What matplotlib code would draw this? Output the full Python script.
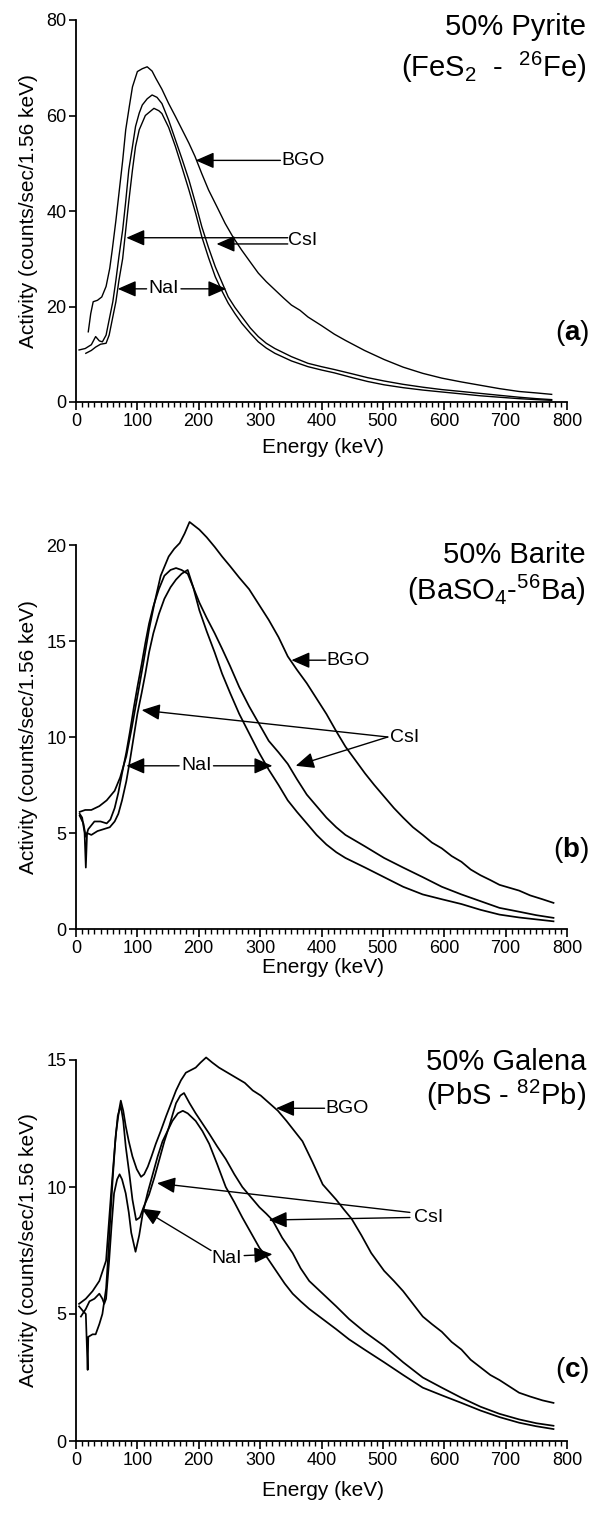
import numpy as np
import matplotlib
matplotlib.use("Agg")
import matplotlib.pyplot as plt
from matplotlib.ticker import MultipleLocator

plt.rcParams['font.family'] = ['Liberation Sans', 'DejaVu Sans']
plt.rcParams['mathtext.fontset'] = 'custom'
plt.rcParams['mathtext.rm'] = 'Liberation Sans'
plt.rcParams['mathtext.bf'] = 'Liberation Sans:bold'

# ---- (a) 50% Pyrite ----
a_bgo_e = [20, 24, 28, 35, 42, 49, 55, 59, 65, 70, 76, 81, 87, 92, 100, 108, 116, 124, 130, 140,
           151, 162, 173, 184, 194, 205, 216, 230, 243, 256, 270, 284, 297, 310, 324, 338, 351, 365,
           378, 400, 421, 439, 470, 502, 533, 565, 596, 628, 659, 690, 722, 750, 775]
a_bgo_v = [14.7, 18.5, 21.0, 21.3, 22.0, 24.2, 28.0, 31.8, 38.0, 43.7, 50.5, 57.0, 62.0, 66.0, 69.2,
           69.8, 70.2, 69.3, 67.8, 65.5, 62.5, 59.8, 57.0, 54.2, 51.4, 47.8, 44.4, 40.8, 37.4, 34.5,
           31.8, 29.3, 27.0, 25.2, 23.5, 21.8, 20.3, 19.2, 17.8, 16.0, 14.2, 12.9, 10.8, 8.9, 7.3,
           6.0, 5.0, 4.2, 3.5, 2.8, 2.2, 1.9, 1.6]
a_csi_e = [5, 15, 25, 32, 38, 43, 49, 54, 60, 65, 70, 76, 81, 86, 92, 97, 103, 108, 116, 124, 132,
           140, 151, 162, 173, 184, 195, 205, 216, 227, 238, 248, 259, 270, 284, 297, 310, 324, 351,
           378, 400, 421, 450, 475, 502, 533, 565, 596, 628, 659, 690, 722, 750, 775]
a_csi_v = [10.9, 11.2, 12.0, 13.7, 12.8, 12.6, 14.0, 17.2, 21.0, 25.5, 30.5, 36.0, 42.0, 48.6, 53.5,
           57.7, 60.5, 62.2, 63.5, 64.3, 63.8, 62.5, 59.0, 54.9, 50.8, 46.5, 41.5, 36.7, 32.3, 28.3,
           25.0, 22.0, 19.8, 17.9, 15.5, 13.7, 12.3, 11.2, 9.5, 8.1, 7.4, 6.8, 5.9, 5.1, 4.4, 3.7,
           3.1, 2.6, 2.2, 1.8, 1.4, 1.0, 0.7, 0.5]
a_nai_e = [16, 25, 32, 40, 49, 54, 59, 65, 70, 76, 81, 86, 92, 97, 103, 113, 127, 135, 140, 151,
           162, 173, 184, 195, 205, 216, 227, 238, 248, 259, 270, 284, 297, 310, 324, 351, 378, 400,
           421, 450, 475, 502, 533, 565, 596, 628, 659, 690, 722, 750, 775]
a_nai_v = [10.2, 10.8, 11.5, 12.1, 12.3, 14.0, 17.2, 21.0, 25.5, 30.0, 36.0, 42.0, 48.6, 53.5, 57.0,
           60.0, 61.5, 61.0, 60.4, 57.5, 53.5, 49.0, 44.4, 39.5, 34.6, 30.2, 26.2, 23.2, 20.7, 18.5,
           16.5, 14.4, 12.6, 11.3, 10.2, 8.6, 7.4, 6.7, 6.1, 5.1, 4.3, 3.6, 3.0, 2.5, 2.1, 1.7, 1.3,
           1.0, 0.7, 0.5, 0.35]

# ---- (b) 50% Barite ----
b_bgo_e = [6, 15, 25, 38, 50, 63, 72, 82, 91, 100, 110, 119, 128, 138, 151, 160, 169, 177, 185, 193,
           201, 213, 226, 238, 251, 266, 282, 298, 314, 330, 345, 360, 376, 392, 408, 424, 439, 455,
           471, 486, 502, 518, 533, 549, 565, 580, 596, 612, 628, 643, 659, 675, 690, 706, 722, 740,
           760, 778]
b_bgo_v = [6.1, 6.2, 6.2, 6.4, 6.7, 7.2, 7.9, 9.0, 10.5, 12.1, 13.9, 15.6, 17.0, 18.4, 19.4, 19.8,
           20.1, 20.6, 21.2, 21.0, 20.8, 20.4, 19.9, 19.4, 18.9, 18.3, 17.7, 16.9, 16.1, 15.2, 14.2,
           13.5, 12.8, 12.0, 11.2, 10.3, 9.5, 8.8, 8.1, 7.5, 6.9, 6.3, 5.8, 5.3, 4.9, 4.5, 4.2, 3.8,
           3.5, 3.1, 2.8, 2.55, 2.3, 2.15, 2.0, 1.75, 1.55, 1.36]
b_csi_e = [6, 12, 16, 20, 30, 40, 50, 56, 63, 69, 75, 82, 88, 94, 100, 107, 113, 119, 126, 135, 144,
           154, 163, 172, 182, 191, 201, 213, 226, 238, 251, 266, 282, 298, 314, 330, 345, 360, 376,
           392, 408, 424, 439, 471, 502, 533, 565, 596, 628, 659, 690, 722, 750, 778]
b_csi_v = [5.9, 5.5, 4.8, 5.2, 5.6, 5.6, 5.5, 5.7, 6.3, 7.1, 8.1, 9.2, 10.3, 11.5, 12.6, 13.8, 14.9,
           15.9, 16.8, 17.7, 18.4, 18.7, 18.8, 18.7, 18.5, 17.8, 17.0, 16.2, 15.4, 14.6, 13.7, 12.6,
           11.6, 10.7, 9.8, 9.2, 8.6, 7.8, 7.0, 6.4, 5.8, 5.3, 4.9, 4.3, 3.7, 3.2, 2.7, 2.2, 1.8,
           1.45, 1.1, 0.9, 0.72, 0.58]
b_nai_e = [6, 10, 14, 16, 18, 25, 35, 45, 55, 63, 69, 75, 82, 88, 94, 100, 107, 113, 119, 126, 135,
           144, 154, 163, 172, 182, 191, 201, 213, 226, 238, 251, 266, 282, 298, 314, 330, 345, 360,
           376, 392, 408, 424, 439, 471, 502, 533, 565, 596, 628, 659, 690, 722, 750, 778]
b_nai_v = [6.0, 5.8, 5.0, 3.2, 5.0, 4.9, 5.1, 5.2, 5.3, 5.6, 6.0, 6.7, 7.7, 8.8, 10.0, 11.2, 12.3,
           13.3, 14.4, 15.4, 16.4, 17.2, 17.8, 18.2, 18.5, 18.7, 17.8, 16.6, 15.5, 14.4, 13.3, 12.3,
           11.2, 10.2, 9.2, 8.3, 7.5, 6.7, 6.1, 5.5, 4.9, 4.4, 4.0, 3.7, 3.2, 2.7, 2.2, 1.8, 1.55,
           1.3, 1.0, 0.75, 0.6, 0.5, 0.4]

# ---- (c) 50% Galena ----
c_bgo_e = [5, 16, 27, 38, 49, 57, 65, 70, 73, 77, 81, 86, 92, 99, 106, 111, 117, 123, 130, 138, 147,
           155, 163, 171, 179, 187, 195, 203, 212, 222, 233, 247, 261, 275, 288, 301, 315, 329, 343,
           356, 369, 385, 402, 413, 424, 437, 449, 465, 481, 502, 518, 533, 549, 565, 580, 596, 612,
           628, 643, 659, 675, 690, 706, 722, 740, 760, 778]
c_bgo_v = [5.4, 5.6, 5.9, 6.3, 7.1, 9.7, 12.1, 13.0, 13.4, 13.0, 12.4, 11.8, 11.2, 10.7, 10.4, 10.5,
           10.8, 11.2, 11.7, 12.2, 12.8, 13.3, 13.8, 14.2, 14.5, 14.6, 14.7, 14.9, 15.1, 14.9, 14.7,
           14.5, 14.3, 14.1, 13.8, 13.6, 13.3, 13.0, 12.6, 12.2, 11.8, 11.0, 10.1, 9.8, 9.5, 9.1,
           8.75, 8.1, 7.4, 6.7, 6.3, 5.9, 5.4, 4.9, 4.6, 4.3, 3.9, 3.6, 3.2, 2.9, 2.6, 2.4, 2.15,
           1.9, 1.75, 1.6, 1.5]
c_csi_e = [5, 12, 16, 19, 20, 27, 32, 38, 43, 49, 52, 56, 60, 64, 68, 73, 77, 81, 87, 92, 98, 104,
           110, 119, 128, 136, 144, 152, 158, 163, 170, 176, 185, 195, 206, 217, 230, 244, 258, 271,
           285, 299, 310, 320, 336, 353, 366, 380, 402, 424, 445, 470, 502, 533, 565, 596, 628, 659,
           690, 722, 750, 778]
c_csi_v = [5.3, 5.1, 5.0, 2.8, 4.1, 4.2, 4.2, 4.6, 5.0, 6.0, 7.1, 8.8, 10.4, 11.8, 12.8, 13.2, 12.6,
           11.6, 10.5, 9.5, 8.7, 8.8, 9.2, 9.7, 10.4, 11.1, 11.8, 12.4, 12.9, 13.3, 13.6, 13.7, 13.3,
           12.9, 12.5, 12.1, 11.6, 11.1, 10.5, 10.0, 9.6, 9.2, 8.95, 8.7, 8.0, 7.4, 6.8, 6.3, 5.8,
           5.3, 4.8, 4.3, 3.74, 3.1, 2.5, 2.1, 1.7, 1.35, 1.07, 0.85, 0.7, 0.6]
c_nai_e = [8, 16, 22, 30, 38, 43, 46, 49, 54, 58, 62, 67, 71, 75, 81, 86, 90, 97, 103, 109, 117, 125,
           133, 141, 149, 157, 166, 174, 182, 195, 206, 217, 230, 244, 258, 271, 285, 299, 312, 326,
           340, 353, 366, 380, 402, 424, 445, 470, 502, 533, 565, 596, 628, 659, 690, 722, 750, 778]
c_nai_v = [4.9, 5.2, 5.5, 5.6, 5.8, 5.6, 5.4, 5.6, 7.1, 8.5, 9.75, 10.3, 10.5, 10.3, 9.75, 9.0, 8.2,
           7.45, 8.1, 9.0, 9.8, 10.5, 11.2, 11.8, 12.2, 12.6, 12.9, 13.0, 12.9, 12.6, 12.2, 11.7,
           10.9, 10.0, 9.4, 8.8, 8.2, 7.6, 7.2, 6.7, 6.2, 5.8, 5.5, 5.2, 4.8, 4.4, 4.0, 3.6, 3.1,
           2.6, 2.1, 1.8, 1.5, 1.2, 0.94, 0.72, 0.58, 0.47]

panels = [
    dict(curves=[(a_bgo_e, a_bgo_v), (a_csi_e, a_csi_v), (a_nai_e, a_nai_v)],
         ymax=80, ystep=20, lw=1.0,
         title1='50% Pyrite', title2='(FeS$_2$  -  $^{26}$Fe)', tag='($\\mathbf{a}$)',
         pos=(20, 402), t1=27, t2=67, tagy=333, xltop=438,
         labels=[('BGO', 334, 50.6, 'left'), ('CsI', 346, 33.8, 'left'), ('NaI', 143, 23.7, 'center')],
         arrows=[((333, 50.6), (195, 50.6)), ((345, 34.4), (82, 34.4)), ((345, 33.1), (229, 33.1)),
                 ((115, 23.7), (68, 23.7)), ((171, 23.7), (245, 23.7))]),
    dict(curves=[(b_bgo_e, b_bgo_v), (b_csi_e, b_csi_v), (b_nai_e, b_nai_v)],
         ymax=20, ystep=5, lw=1.25,
         title1='50% Barite', title2='(BaSO$_4$-$^{56}$Ba)', tag='($\\mathbf{b}$)',
         pos=(545, 929), t1=555, t2=590, tagy=850, xltop=958,
         labels=[('BGO', 408, 14.0, 'left'), ('CsI', 512, 10.0, 'left'), ('NaI', 196, 8.5, 'center')],
         arrows=[((407, 14.0), (351, 14.0)), ((508, 10.0), (107, 11.4)), ((508, 10.0), (358, 8.5)),
                 ((168, 8.5), (82, 8.5)), ((224, 8.5), (320, 8.5))]),
    dict(curves=[(c_bgo_e, c_bgo_v), (c_csi_e, c_csi_v), (c_nai_e, c_nai_v)],
         ymax=15, ystep=5, lw=1.25,
         title1='50% Galena', title2='(PbS - $^{82}$Pb)', tag='($\\mathbf{c}$)',
         pos=(1060, 1441), t1=1062, t2=1095, tagy=1370, xltop=1481,
         labels=[('BGO', 406, 13.1, 'left'), ('CsI', 550, 8.8, 'left'), ('NaI', 246, 7.2, 'center')],
         arrows=[((544, 9.0), (132, 10.15)), ((544, 8.8), (314, 8.7)), ((405, 13.1), (326, 13.1)),
                 ((220, 7.5), (107, 9.15)), ((274, 7.3), (320, 7.35))]),
]

W, H = 601, 1513
fig = plt.figure(figsize=(W / 100, H / 100), dpi=100)
x0, x1 = 76, 567

for p in panels:
    top, bot = p['pos']
    ax = fig.add_axes([x0 / W, 1 - bot / H, (x1 - x0) / W, (bot - top) / H])
    for e, v in p['curves']:
        ax.plot(e, v, color='black', lw=p['lw'], clip_on=False)
    ax.set_xlim(0, 800)
    ax.set_ylim(0, p['ymax'])
    ax.xaxis.set_major_locator(MultipleLocator(100))
    ax.xaxis.set_minor_locator(MultipleLocator(10))
    ax.yaxis.set_major_locator(MultipleLocator(p['ystep']))
    for s in ['top', 'right']:
        ax.spines[s].set_visible(False)
    for s in ['left', 'bottom']:
        ax.spines[s].set_linewidth(1.3)
    ax.tick_params(axis='x', which='major', length=6, width=1.2, labelsize=13, pad=2)
    ax.tick_params(axis='x', which='minor', length=3.5, width=1.0)
    ax.tick_params(axis='y', which='major', length=5, width=1.2, labelsize=13, pad=2)
    ax.set_xlabel('Energy (keV)', fontsize=15)
    ax.set_ylabel('Activity (counts/sec/1.56 keV)', fontsize=15)
    ax.yaxis.set_label_coords((38 - x0) / (x1 - x0), 0.5)
    ax.xaxis.set_label_coords(0.503, (bot - p['xltop']) / (bot - top))

    for txt, lx, ly, ha in p['labels']:
        ax.text(lx, ly, txt, fontsize=14, ha=ha, va='center')
    for start, tip in p['arrows']:
        ax.annotate('', xy=tip, xytext=start,
                    arrowprops=dict(arrowstyle='-|>,head_length=0.8,head_width=0.35',
                                    color='black', lw=1.0, shrinkA=0, shrinkB=0,
                                    mutation_scale=14))

    fig.text(586 / W, 1 - p['t1'] / H, p['title1'], fontsize=21, ha='right', va='center')
    fig.text(586 / W, 1 - p['t2'] / H, p['title2'], fontsize=21, ha='right', va='center')
    fig.text(589 / W, 1 - p['tagy'] / H, p['tag'], fontsize=20, ha='right', va='center')

fig.savefig('out.png', dpi=100)
